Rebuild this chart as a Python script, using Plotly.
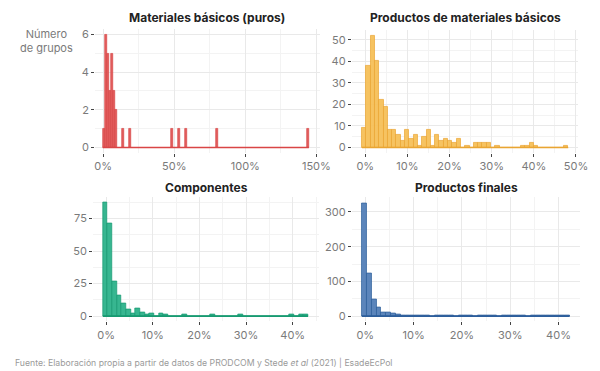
import plotly.graph_objects as go

# ---------------- data ----------------
# Materiales básicos (puros): bin centres (%) and counts of the non-empty bins
tl_centers = [0.4, 1.8, 3.2, 4.6, 6.0, 7.4, 8.8, 13.85, 19.1, 48.35, 53.55, 58.6, 80.45, 144.0]
tl_counts = [1, 6, 5, 3, 5, 3, 2, 1, 1, 1, 1, 1, 1, 1]
tl_binwidth = 1.4
tl_range = [-0.3, 144.7]

# Productos de materiales básicos: consecutive bins
tr_start, tr_binwidth = -0.8, 1.02
tr_counts = [9, 38, 52, 40, 22, 19, 8, 8, 6, 3,
             8, 4, 6, 1, 5, 8, 1, 6, 3, 4,
             3, 2, 4, 0, 1, 0, 2, 2, 2, 2,
             0, 1, 0, 0, 0, 0, 0, 1, 1, 2,
             1, 0, 0, 0, 0, 0, 0, 1]

# Componentes
bl_start, bl_binwidth = -0.7, 1.0
bl_counts = [87, 71, 27, 16, 10, 5, 2, 6, 3, 1,
             2, 0, 2, 1, 0, 0, 0, 1, 0, 0,
             0, 0, 0, 1, 0, 0, 0, 0, 0, 1,
             0, 0, 0, 0, 0, 0, 0, 0, 0, 0,
             1, 0, 1, 1]

# Productos finales
br_start, br_binwidth = -0.7, 1.0
br_counts = [326, 124, 48, 24, 12, 10, 7, 6, 3, 2,
             3, 2, 2, 1, 0, 1, 2, 1, 1, 0,
             1, 1, 1, 0, 1, 1, 1, 1, 0, 1,
             1, 1, 1, 1, 0, 1, 1, 1, 1, 1,
             1, 1, 1]

titles = ["Materiales básicos (puros)", "Productos de materiales básicos",
          "Componentes", "Productos finales"]
y_label = "Número<br>de grupos"
source = ("Fuente: Elaboración propia a partir de datos de PRODCOM y Stede <i>et al</i> (2021) | EsadeEcPol")

# ---------------- style ----------------
W, H = 600, 371
FONT = "Inter"
fills = ["rgba(226,86,86,0.95)", "rgba(245,192,88,0.95)", "rgba(44,178,138,0.95)", "rgba(82,126,183,0.95)"]
lines = ["#D94646", "#E9A532", "#179A71", "#2D5E9B"]

# panel pixel boxes: (x0, x1, y0(top), y1(bottom))
boxes = [(96, 325, 28, 153), (358, 589, 29, 153), (94, 324, 198, 323), (358, 591, 198, 323)]
xranges = [[-5.7, 152.2], [-3.19, 50.53], [-2.79, 45.53], [-2.78, 44.48]]
yranges = [[-0.28, 6.3], [-2.44, 54.6], [-4.04, 91.2], [-15.1, 342.0]]
xdt = [50, 10, 10, 10]
ydt = [2, 10, 25, 100]


def bins(start, width, counts):
    centers = [start + width * (k + 0.5) for k in range(len(counts))]
    return centers, [start, start + width * len(counts)]


tr_centers, tr_range = bins(tr_start, tr_binwidth, tr_counts)
bl_centers, bl_range = bins(bl_start, bl_binwidth, bl_counts)
br_centers, br_range = bins(br_start, br_binwidth, br_counts)

panels = [
    (tl_centers, tl_counts, tl_binwidth, tl_range),
    (tr_centers, tr_counts, tr_binwidth, tr_range),
    (bl_centers, bl_counts, bl_binwidth, bl_range),
    (br_centers, br_counts, br_binwidth, br_range),
]

fig = go.Figure()
layout = {}
for i, (cx, cy, bw, rng) in enumerate(panels):
    sfx = "" if i == 0 else str(i + 1)
    xa, ya = "x" + sfx, "y" + sfx
    # baseline (empty bins drawn as flat outline, as in the original)
    fig.add_trace(go.Scatter(x=rng, y=[0, 0], mode="lines", xaxis=xa, yaxis=ya,
                             line=dict(color=lines[i], width=1.6), hoverinfo="skip",
                             showlegend=False))
    fig.add_trace(go.Bar(x=cx, y=cy, width=bw, xaxis=xa, yaxis=ya,
                         marker=dict(color=fills[i], line=dict(color=lines[i], width=0.7)),
                         showlegend=False))
    x0, x1, y0, y1 = boxes[i]
    common = dict(showgrid=True, gridcolor="#E9E9E9", gridwidth=1, zeroline=False,
                  showline=False, ticks="outside", ticklen=3, tickwidth=1, tickcolor="#444",
                  tickfont=dict(family=FONT, size=11, color="#7a7a7a"))
    layout["xaxis" + sfx] = dict(domain=[x0 / W, x1 / W], anchor=ya, range=xranges[i],
                                  dtick=xdt[i], tick0=0, ticksuffix="%",
                                  minor=dict(showgrid=True, gridcolor="#F3F3F3", dtick=xdt[i] / 2, tick0=0),
                                  **common)
    layout["yaxis" + sfx] = dict(domain=[1 - y1 / H, 1 - y0 / H], anchor=xa, range=yranges[i],
                                  dtick=ydt[i], tick0=0,
                                  minor=dict(showgrid=True, gridcolor="#F3F3F3", dtick=ydt[i] / 2, tick0=0),
                                  **common)

title_pos = [(210, 17), (474, 17), (210, 188), (475, 188)]
annotations = []
for t, (tx, ty) in zip(titles, title_pos):
    annotations.append(dict(text="<b>" + t + "</b>", x=tx / W, y=1 - ty / H, xref="paper", yref="paper",
                            showarrow=False, xanchor="center", yanchor="middle",
                            font=dict(family=FONT, size=12, color="#222")))
annotations.append(dict(text=y_label, x=46 / W, y=1 - 40 / H, xref="paper", yref="paper",
                        showarrow=False, xanchor="center", yanchor="middle", align="center",
                        font=dict(family=FONT, size=11, color="#7a7a7a")))
annotations.append(dict(text=source, x=12 / W, y=1 - 364 / H, xref="paper", yref="paper",
                        showarrow=False, xanchor="left", yanchor="middle",
                        font=dict(family=FONT, size=8.7, color="#9a9a9a")))

fig.update_layout(width=W, height=H, margin=dict(l=0, r=0, t=0, b=0),
                  paper_bgcolor="white", plot_bgcolor="white", bargap=0,
                  annotations=annotations, **layout)
fig.write_html("out.html", config={"displayModeBar": False},
               post_script="document.body.style.margin='0';document.body.style.overflow='hidden';")
